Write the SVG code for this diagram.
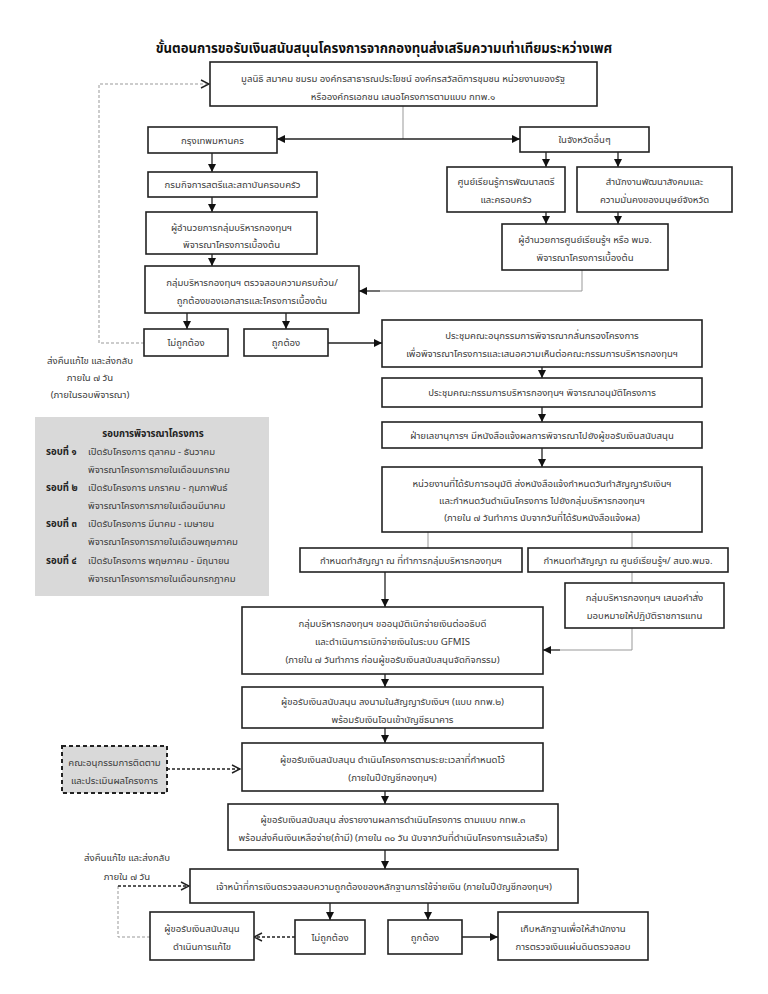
<svg xmlns="http://www.w3.org/2000/svg" width="768" height="994" viewBox="0 0 768 994">
<style>
text{font-family:"Noto Sans Thai","Noto Sans",sans-serif;font-size:9.6px;fill:#3a3a3a;text-anchor:middle}
.title{font-size:13.2px;font-weight:bold;fill:#111}
.b{font-weight:bold;fill:#222}
.l{text-anchor:start}
.box{fill:#fff;stroke:#222;stroke-width:1.6}
.gbox{fill:#d9d9d9;stroke:none}
.dbox{fill:#d9d9d9;stroke:#222;stroke-width:2;stroke-dasharray:4 3}
.c{fill:none;stroke:#222;stroke-width:1.3}
.g{fill:none;stroke:#999;stroke-width:1}
.d{fill:none;stroke:#999;stroke-width:1;stroke-dasharray:3 2}
.dd{fill:none;stroke:#222;stroke-width:1.3;stroke-dasharray:3 2}
</style>
<defs>
<marker id="arr" viewBox="0 0 10 10" refX="10" refY="5" markerWidth="8" markerHeight="8" markerUnits="userSpaceOnUse" orient="auto"><path d="M0,0 L10,5 L0,10 z" fill="#111"/></marker>
<marker id="chev" viewBox="0 0 10 10" refX="9" refY="5" markerWidth="10" markerHeight="10" markerUnits="userSpaceOnUse" orient="auto"><path d="M1,1 L9,5 L1,9" fill="none" stroke="#222" stroke-width="1.4"/></marker>
</defs>
<rect width="768" height="994" fill="#fff"/>
<text class="title" x="384" y="53">ขั้นตอนการขอรับเงินสนับสนุนโครงการจากกองทุนส่งเสริมความเท่าเทียมระหว่างเพศ</text>

<g id="connectors">
<path class="g" d="M403,106 V139"/>
<path class="c" d="M403,139 H277" marker-end="url(#arr)"/>
<path class="c" d="M403,139 H520" marker-end="url(#arr)"/>
<path class="c" d="M212,153 V172" marker-end="url(#arr)"/>
<path class="c" d="M212,197 V212" marker-end="url(#arr)"/>
<path class="c" d="M212,254 V266" marker-end="url(#arr)"/>
<path class="c" d="M187,313 V329" marker-end="url(#arr)"/>
<path class="c" d="M286,313 V329" marker-end="url(#arr)"/>
<path class="c" d="M328,343 H382" marker-end="url(#arr)"/>
<path class="d" d="M144,343 H99 V84 H209" marker-end="url(#chev)"/>
<path class="c" d="M546,152 V167" marker-end="url(#arr)"/>
<path class="c" d="M618,152 V167" marker-end="url(#arr)"/>
<path class="c" d="M546,212 V224" marker-end="url(#arr)"/>
<path class="c" d="M618,212 V224" marker-end="url(#arr)"/>
<path class="g" d="M582,270 V291 H380"/>
<path class="c" d="M380,291 H359" marker-end="url(#arr)"/>
<path class="c" d="M542,367 V378" marker-end="url(#arr)"/>
<path class="c" d="M542,407 V422" marker-end="url(#arr)"/>
<path class="c" d="M542,448 V467" marker-end="url(#arr)"/>
<path class="g" d="M428,532 V548"/>
<path class="g" d="M632,532 V548"/>
<path class="g" d="M632,572 V583"/>
<path class="g" d="M632,628 V650 H560"/>
<path class="c" d="M560,650 H543" marker-end="url(#arr)"/>
<path class="c" d="M385,572 V607" marker-end="url(#arr)"/>
<path class="c" d="M385,674 V687" marker-end="url(#arr)"/>
<path class="c" d="M385,728 V743" marker-end="url(#arr)"/>
<path class="dd" d="M167,769 H240" marker-end="url(#chev)"/>
<path class="c" d="M385,791 V804" marker-end="url(#arr)"/>
<path class="c" d="M385,850 V869" marker-end="url(#arr)"/>
<path class="c" d="M330,903 V920" marker-end="url(#arr)"/>
<path class="c" d="M428,903 V920" marker-end="url(#arr)"/>
<path class="d" d="M150,937 H118 V886"/>
<path class="dd" d="M118,886 H189" marker-end="url(#chev)"/>
<path class="dd" d="M295,937 H254" marker-end="url(#chev)"/>
<path class="c" d="M462,937 H498" marker-end="url(#arr)"/>
</g>

<g id="n-top"><rect class="box" x="210" y="62" width="387" height="44"/>
<text x="403" y="82">มูลนิธิ สมาคม ชมรม องค์กรสาธารณประโยชน์ องค์กรสวัสดิการชุมชน หน่วยงานของรัฐ</text>
<text x="403" y="100">หรือองค์กรเอกชน เสนอโครงการตามแบบ กทพ.๑</text></g>
<g id="n-bkk"><rect class="box" x="148" y="127" width="129" height="26"/><text x="212.5" y="143.5">กรุงเทพมหานคร</text></g>
<g id="n-prov"><rect class="box" x="520" y="127" width="129" height="25"/><text x="584.5" y="143">ในจังหวัดอื่นๆ</text></g>
<g id="n-dept"><rect class="box" x="148" y="172" width="169" height="25"/><text x="232.5" y="188">กรมกิจการสตรีและสถาบันครอบครัว</text></g>
<g id="n-dir1"><rect class="box" x="146" y="212" width="171" height="42"/><text x="231.5" y="230.5">ผู้อำนวยการกลุ่มบริหารกองทุนฯ</text><text x="231.5" y="247.5">พิจารณาโครงการเบื้องต้น</text></g>
<g id="n-check"><rect class="box" x="145" y="266" width="214" height="47"/><text x="252" y="285.5">กลุ่มบริหารกองทุนฯ ตรวจสอบความครบถ้วน/</text><text x="252" y="303.5">ถูกต้องของเอกสารและโครงการเบื้องต้น</text></g>
<g id="n-no1"><rect class="box" x="144" y="329" width="84" height="27"/><text x="186" y="345.5">ไม่ถูกต้อง</text></g>
<g id="n-yes1"><rect class="box" x="244" y="329" width="84" height="27"/><text x="286" y="345.5">ถูกต้อง</text></g>
<g id="n-center"><rect class="box" x="447" y="167" width="118" height="45"/><text x="506" y="184.5">ศูนย์เรียนรู้การพัฒนาสตรี</text><text x="506" y="202.5">และครอบครัว</text></g>
<g id="n-office"><rect class="box" x="577" y="167" width="155" height="45"/><text x="654.5" y="184.5">สำนักงานพัฒนาสังคมและ</text><text x="654.5" y="202.5">ความมั่นคงของมนุษย์จังหวัด</text></g>
<g id="n-dir2"><rect class="box" x="502" y="224" width="166" height="46"/><text x="585" y="242.5">ผู้อำนวยการศูนย์เรียนรู้ฯ หรือ พมจ.</text><text x="585" y="260.5">พิจารณาโครงการเบื้องต้น</text></g>
<g id="n-note1"><text x="90" y="364">ส่งคืนแก้ไข และส่งกลับ</text><text x="90" y="381">ภายใน ๗ วัน</text><text x="90" y="398">(ภายในรอบพิจารณา)</text></g>

<g id="n-rounds"><rect class="gbox" x="35" y="417" width="234" height="179"/>
<text class="b" x="153" y="437">รอบการพิจารณาโครงการ</text>
<text class="b l" x="46" y="455">รอบที่ ๑</text><text class="l" x="88" y="455">เปิดรับโครงการ ตุลาคม - ธันวาคม</text>
<text class="l" x="88" y="473">พิจารณาโครงการภายในเดือนมกราคม</text>
<text class="b l" x="46" y="491">รอบที่ ๒</text><text class="l" x="88" y="491">เปิดรับโครงการ มกราคม - กุมภาพันธ์</text>
<text class="l" x="88" y="509">พิจารณาโครงการภายในเดือนมีนาคม</text>
<text class="b l" x="46" y="527">รอบที่ ๓</text><text class="l" x="88" y="527">เปิดรับโครงการ มีนาคม - เมษายน</text>
<text class="l" x="88" y="545">พิจารณาโครงการภายในเดือนพฤษภาคม</text>
<text class="b l" x="46" y="564">รอบที่ ๔</text><text class="l" x="88" y="564">เปิดรับโครงการ พฤษภาคม - มิถุนายน</text>
<text class="l" x="88" y="582">พิจารณาโครงการภายในเดือนกรกฎาคม</text></g>

<g id="n-sub"><rect class="box" x="382" y="320" width="320" height="47"/><text x="542" y="338.5">ประชุมคณะอนุกรรมการพิจารณากลั่นกรองโครงการ</text><text x="542" y="356.5">เพื่อพิจารณาโครงการและเสนอความเห็นต่อคณะกรรมการบริหารกองทุนฯ</text></g>
<g id="n-board"><rect class="box" x="382" y="378" width="320" height="29"/><text x="542" y="396">ประชุมคณะกรรมการบริหารกองทุนฯ พิจารณาอนุมัติโครงการ</text></g>
<g id="n-sec"><rect class="box" x="382" y="422" width="320" height="26"/><text x="542" y="439">ฝ่ายเลขานุการฯ มีหนังสือแจ้งผลการพิจารณาไปยังผู้ขอรับเงินสนับสนุน</text></g>
<g id="n-unit"><rect class="box" x="382" y="467" width="320" height="65"/><text x="542" y="486.5">หน่วยงานที่ได้รับการอนุมัติ ส่งหนังสือแจ้งกำหนดวันทำสัญญารับเงินฯ</text><text x="542" y="503.5">และกำหนดวันดำเนินโครงการ ไปยังกลุ่มบริหารกองทุนฯ</text><text x="542" y="520.5">(ภายใน ๗ วันทำการ นับจากวันที่ได้รับหนังสือแจ้งผล)</text></g>
<g id="n-contract1"><rect class="box" x="300" y="548" width="222" height="24"/><text x="411" y="563.5">กำหนดทำสัญญา ณ ที่ทำการกลุ่มบริหารกองทุนฯ</text></g>
<g id="n-contract2"><rect class="box" x="528" y="548" width="200" height="24"/><text x="628" y="563.5">กำหนดทำสัญญา ณ ศูนย์เรียนรู้ฯ/ สนง.พมจ.</text></g>
<g id="n-order"><rect class="box" x="565" y="583" width="159" height="45"/><text x="644.5" y="600.5">กลุ่มบริหารกองทุนฯ เสนอคำสั่ง</text><text x="644.5" y="618.5">มอบหมายให้ปฏิบัติราชการแทน</text></g>
<g id="n-gfmis"><rect class="box" x="242" y="607" width="301" height="67"/><text x="392.5" y="626.5">กลุ่มบริหารกองทุนฯ ขออนุมัติเบิกจ่ายเงินต่ออธิบดี</text><text x="392.5" y="644.5">และดำเนินการเบิกจ่ายเงินในระบบ GFMIS</text><text x="392.5" y="662.5">(ภายใน ๗ วันทำการ ก่อนผู้ขอรับเงินสนับสนุนจัดกิจกรรม)</text></g>
<g id="n-sign"><rect class="box" x="242" y="687" width="301" height="41"/><text x="392.5" y="704.5">ผู้ขอรับเงินสนับสนุน ลงนามในสัญญารับเงินฯ (แบบ กทพ.๒)</text><text x="392.5" y="722.5">พร้อมรับเงินโอนเข้าบัญชีธนาคาร</text></g>
<g id="n-monitor"><rect class="dbox" x="62" y="746" width="105" height="47"/><text x="114.5" y="765.5">คณะอนุกรรมการติดตาม</text><text x="114.5" y="783.5">และประเมินผลโครงการ</text></g>
<g id="n-run"><rect class="box" x="242" y="743" width="301" height="48"/><text x="392.5" y="762.5">ผู้ขอรับเงินสนับสนุน ดำเนินโครงการตามระยะเวลาที่กำหนดไว้</text><text x="392.5" y="780.5">(ภายในปีบัญชีกองทุนฯ)</text></g>
<g id="n-report"><rect class="box" x="228" y="804" width="330" height="46"/><text x="393" y="822.5">ผู้ขอรับเงินสนับสนุน ส่งรายงานผลการดำเนินโครงการ ตามแบบ กทพ.๓</text><text x="393" y="840.5">พร้อมส่งคืนเงินเหลือจ่าย(ถ้ามี) (ภายใน ๓๐ วัน นับจากวันที่ดำเนินโครงการแล้วเสร็จ)</text></g>
<g id="n-note2"><text x="127" y="861">ส่งคืนแก้ไข และส่งกลับ</text><text x="127" y="880">ภายใน ๗ วัน</text></g>
<g id="n-fin"><rect class="box" x="190" y="869" width="388" height="34"/><text x="384" y="889.5">เจ้าหน้าที่การเงินตรวจสอบความถูกต้องของหลักฐานการใช้จ่ายเงิน (ภายในปีบัญชีกองทุนฯ)</text></g>
<g id="n-fix"><rect class="box" x="150" y="912" width="104" height="48"/><text x="202" y="931.5">ผู้ขอรับเงินสนับสนุน</text><text x="202" y="949.5">ดำเนินการแก้ไข</text></g>
<g id="n-no2"><rect class="box" x="295" y="920" width="70" height="34"/><text x="330" y="940.5">ไม่ถูกต้อง</text></g>
<g id="n-yes2"><rect class="box" x="388" y="920" width="74" height="34"/><text x="425" y="940.5">ถูกต้อง</text></g>
<g id="n-keep"><rect class="box" x="498" y="912" width="150" height="48"/><text x="573" y="931.5">เก็บหลักฐานเพื่อให้สำนักงาน</text><text x="573" y="949.5">การตรวจเงินแผ่นดินตรวจสอบ</text></g>
</svg>
